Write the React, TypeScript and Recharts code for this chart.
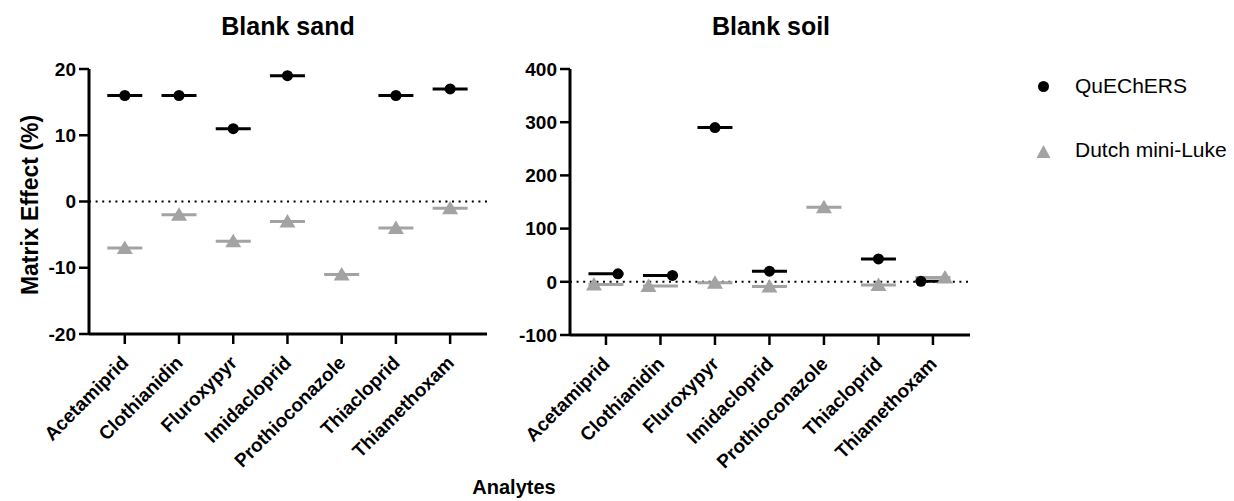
import { ComposedChart, ReferenceLine, Scatter, XAxis, YAxis } from "recharts";

const analytes = ["Acetamiprid", "Clothianidin", "Fluroxypyr", "Imidacloprid", "Prothioconazole", "Thiacloprid", "Thiamethoxam"];

const sandQuechers = [16, 16, 11, 19, null, 16, 17];
const sandDutch = [-7, -2, -6, -3, -11, -4, -1];
const soilQuechers = [15, 12, 290, 20, null, 43, 1];
const soilDutch = [-5, -8, -2, -9, 140, -6, 8];

const sandTicks = [-20, -10, 0, 10, 20];
const soilTicks = [-100, 0, 100, 200, 300, 400];
const xTicks = [1, 2, 3, 4, 5, 6, 7];

const font = "'Liberation Sans', Arial, sans-serif";
const grey = "#a3a3a3";

type Row = { x: number; name: string; q: number | null; d: number | null; qShift: number; dShift: number };

// points that would sit on top of each other get nudged sideways (higher value to the right)
function buildRows(q: (number | null)[], d: (number | null)[], span: number): Row[] {
  return analytes.map((name, i) => {
    const a = q[i];
    const b = d[i];
    const close = a != null && b != null && Math.abs(a - b) < span * 0.05;
    const qShift = close ? (a! >= b! ? 1 : -1) : 0;
    return { x: i + 1, name, q: a, d: b, qShift, dShift: -qShift };
  });
}

const meanLine = (color: string) => (p: any) => (
  <line x1={p.cx - 17.5} x2={p.cx + 17.5} y1={p.cy} y2={p.cy} stroke={color} strokeWidth={3} />
);

const dot = (p: any) => <circle cx={p.cx + p.payload.qShift * 12} cy={p.cy} r={5.5} fill="#000" />;

const tri = (p: any) => {
  const x = p.cx + p.payload.dShift * 12;
  const y = p.cy;
  return <path d={`M${x},${y - 7.5} L${x + 8},${y + 6} L${x - 8},${y + 6} Z`} fill={grey} />;
};

const XTick = (p: any) => (
  <g transform={`translate(${p.x + 5},${p.y + 18})`}>
    <text x={0} y={0} textAnchor="end" transform="rotate(-45)" fontFamily={font} fontSize={19} fontWeight="bold" fill="#000">
      {analytes[p.payload.value - 1]}
    </text>
  </g>
);

function Panel({ rows, ticks, yWidth, margin }: { rows: Row[]; ticks: number[]; yWidth: number; margin: any }) {
  const qRows = rows.filter((r) => r.q != null);
  const dRows = rows.filter((r) => r.d != null);
  return (
    <ComposedChart width={500} height={501} margin={margin}>
      <XAxis
        dataKey="x"
        type="number"
        domain={[0.34, 7.68]}
        ticks={xTicks}
        allowDataOverflow
        height={130}
        tick={<XTick />}
        tickSize={10}
        axisLine={{ stroke: "#000", strokeWidth: 3 }}
        tickLine={{ stroke: "#000", strokeWidth: 2.5 }}
        interval={0}
      />
      <YAxis
        type="number"
        domain={[ticks[0], ticks[ticks.length - 1]]}
        ticks={ticks}
        width={yWidth}
        tickSize={10}
        tickMargin={3}
        axisLine={{ stroke: "#000", strokeWidth: 3 }}
        tickLine={{ stroke: "#000", strokeWidth: 2.5 }}
        tick={{ fill: "#000", fontSize: 19, fontWeight: "bold", fontFamily: font }}
      />
      <ReferenceLine y={0} stroke="#000" strokeWidth={2} strokeDasharray="2 4.6" />
      <Scatter data={qRows} dataKey="q" shape={meanLine("#000")} isAnimationActive={false} />
      <Scatter data={dRows} dataKey="d" shape={meanLine(grey)} isAnimationActive={false} />
      <Scatter data={qRows} dataKey="q" shape={dot} isAnimationActive={false} />
      <Scatter data={dRows} dataKey="d" shape={tri} isAnimationActive={false} />
    </ComposedChart>
  );
}

const textStyle = { position: "absolute" as const, fontFamily: font, color: "#000", whiteSpace: "nowrap" as const };

export default function App() {
  const sandRows = buildRows(sandQuechers, sandDutch, 40);
  const soilRows = buildRows(soilQuechers, soilDutch, 500);
  return (
    <div style={{ position: "absolute", left: 0, top: 0, width: 1234, height: 501, background: "#fff", overflow: "hidden" }}>
      <div style={{ position: "absolute", left: 0, top: 0 }}>
        <Panel rows={sandRows} ticks={sandTicks} yWidth={49} margin={{ top: 69, right: 13, bottom: 37, left: 40 }} />
      </div>
      <div style={{ position: "absolute", left: 490, top: 0 }}>
        <Panel rows={soilRows} ticks={soilTicks} yWidth={40} margin={{ top: 69, right: 20, bottom: 36, left: 40 }} />
      </div>
      <div style={{ ...textStyle, left: 188, width: 200, top: 12, textAlign: "center", fontSize: 25, fontWeight: "bold" }}>Blank sand</div>
      <div style={{ ...textStyle, left: 671, width: 200, top: 12, textAlign: "center", fontSize: 25, fontWeight: "bold" }}>Blank soil</div>
      <div
        style={{
          ...textStyle,
          left: 30 - 120,
          width: 240,
          top: 205 - 13,
          height: 26,
          lineHeight: "26px",
          textAlign: "center",
          fontSize: 23,
          fontWeight: "bold",
          transform: "rotate(-90deg)",
        }}
      >
        Matrix Effect (%)
      </div>
      <div style={{ ...textStyle, left: 414, width: 200, top: 475, height: 24, lineHeight: "24px", textAlign: "center", fontSize: 20, fontWeight: "bold" }}>
        Analytes
      </div>
      <svg style={{ position: "absolute", left: 1020, top: 60 }} width={214} height={120}>
        <circle cx={23.5} cy={26.5} r={5.5} fill="#000" />
        <text x={55} y={33} fontFamily={font} fontSize={21} fill="#000">QuEChERS</text>
        <path d="M23.5,85 L30.5,98 L16.5,98 Z" fill={grey} />
        <text x={55} y={97} fontFamily={font} fontSize={21} fill="#000">Dutch mini-Luke</text>
      </svg>
    </div>
  );
}
